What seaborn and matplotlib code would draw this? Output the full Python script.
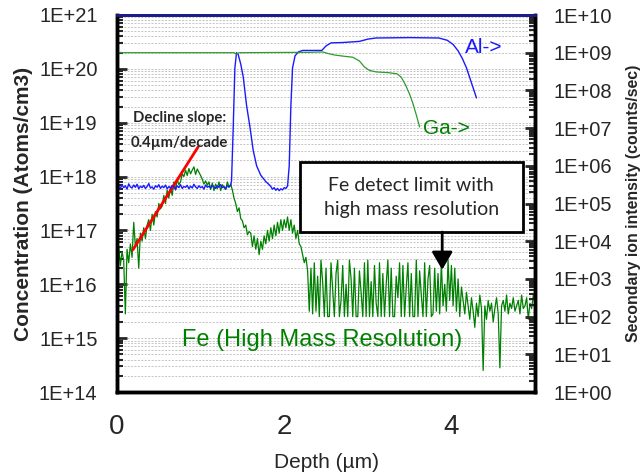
import numpy as np
import matplotlib
matplotlib.use("Agg")
import matplotlib.pyplot as plt
from matplotlib.patches import Rectangle
from matplotlib.ticker import FixedLocator, FuncFormatter, NullLocator, NullFormatter
import seaborn as sns

# Fe profile (high mass resolution), log10(atoms/cm3), read every 0.02 um from 0 to 5 um
fe_log = [
    16.55, 16.70, 16.35, 16.60, 16.45, 15.45, 16.65, 16.40, 16.75, 16.50,
    17.15, 16.70, 16.85, 16.30, 16.95, 16.80, 17.05, 16.85, 17.10, 17.20,
    17.00, 17.30, 17.10, 17.35, 17.25, 17.50, 17.40, 17.45, 17.65, 17.50,
    17.75, 17.60, 17.80, 17.65, 17.90, 17.75, 17.95, 17.85, 17.90, 18.05,
    18.00, 18.12, 18.02, 18.15, 18.05, 18.12, 18.18, 18.04, 18.14, 18.08,
    18.02, 17.95, 17.86, 17.92, 17.84, 17.90, 17.76, 17.88, 17.74, 17.86,
    17.78, 17.90, 17.74, 17.85, 17.80, 17.76, 17.90, 17.80, 17.86, 17.75,
    17.60, 17.50, 17.35, 17.42, 17.22, 17.18, 17.05, 17.10, 16.92, 16.98,
    16.95, 16.70, 16.90, 16.65, 16.85, 16.55, 16.80, 16.65, 16.90, 16.75,
    17.00, 16.80, 17.05, 16.85, 17.10, 16.90, 17.15, 16.95, 17.20, 17.00,
    17.20, 17.05, 17.25, 17.00, 17.20, 16.95, 17.10, 16.85, 17.00, 16.75,
    16.70, 16.55, 16.40, 16.50, 16.25, 15.50, 16.30, 15.45, 16.40, 15.50,
    16.15, 15.40, 16.45, 16.05, 15.40, 16.30, 15.40, 15.40, 16.40, 15.90,
    15.40, 16.20, 16.45, 15.40, 15.70, 16.35, 15.40, 16.00, 15.40, 16.45,
    16.10, 15.40, 16.30, 15.40, 15.40, 16.25, 15.85, 15.40, 16.40, 15.40,
    16.45, 15.40, 16.05, 15.40, 16.35, 15.65, 15.40, 16.40, 15.40, 16.20,
    15.40, 16.00, 16.45, 15.40, 16.30, 15.40, 15.40, 16.15, 15.75, 16.40,
    15.40, 16.35, 15.40, 15.95, 16.40, 15.40, 16.20, 15.40, 15.40, 16.45,
    15.40, 16.25, 15.80, 15.40, 16.40, 15.40, 16.10, 16.35, 15.40, 15.45,
    16.30, 15.50, 16.20, 15.45, 16.40, 15.60, 16.00, 15.50, 16.45, 15.70,
    16.35, 15.60, 16.30, 15.50, 16.10, 15.40, 15.95, 15.70, 15.45, 15.85,
    15.60, 15.35, 15.75, 15.50, 15.20, 15.65, 15.40, 15.80, 15.55, 14.40,
    15.60, 15.35, 15.70, 15.50, 15.65, 15.30, 15.55, 15.75, 15.45, 14.45,
    15.60, 15.70, 15.50, 15.80, 15.45, 15.65, 15.55, 15.75, 15.50, 15.60,
    15.70, 15.45, 15.80, 15.55, 15.60, 15.75, 15.35, 15.65, 15.55, 15.80,
    15.65,
]
fe_start, fe_end = 0.0, 5.0

# Al signal, log10(counts/sec)
al_head_depth = [0.0, 0.01]
al_head_log = [9.9, 5.5]
al_base_start, al_base_end = 0.02, 1.36
al_base_log = [
    5.46, 5.40, 5.50, 5.42, 5.47, 5.38, 5.52, 5.44, 5.41, 5.49,
    5.43, 5.51, 5.39, 5.46, 5.42, 5.48, 5.40, 5.45, 5.53, 5.41,
    5.44, 5.38, 5.47, 5.43, 5.50, 5.40, 5.46, 5.42, 5.49, 5.39,
    5.45, 5.41, 5.48, 5.44, 5.37, 5.47, 5.42, 5.50, 5.40, 5.45,
    5.43, 5.48, 5.39, 5.46, 5.41, 5.51, 5.44, 5.40, 5.47, 5.42,
    5.45, 5.38, 5.49, 5.43, 5.46, 5.41, 5.48, 5.44, 5.40, 5.47,
    5.43, 5.50, 5.42, 5.45, 5.39, 5.47, 5.44, 5.48,
]
al_peak_depth = [1.37, 1.39, 1.41, 1.43, 1.45, 1.48, 1.51, 1.55, 1.59, 1.63, 1.67, 1.72, 1.78, 1.82]
al_peak_log = [5.6, 7.0, 8.6, 9.0, 8.95, 8.7, 8.36, 7.6, 7.03, 6.4, 6.0, 5.75, 5.58, 5.5]
al_valley_start, al_valley_end = 1.84, 2.04
al_valley_log = [5.45, 5.38, 5.42, 5.35, 5.40, 5.34, 5.39, 5.36, 5.42, 5.40, 5.46]
al_tail_depth = [2.06, 2.08, 2.10, 2.13, 2.17, 2.22, 2.30, 2.45, 2.50, 2.56, 2.70, 2.90,
                 3.00, 3.10, 3.50, 3.85, 3.95, 4.02, 4.08, 4.13, 4.18, 4.24, 4.30]
al_tail_log = [6.0, 7.6, 8.6, 8.92, 9.02, 9.06, 9.06, 9.06, 9.18, 9.26, 9.27, 9.30,
               9.36, 9.39, 9.40, 9.39, 9.33, 9.22, 9.05, 8.85, 8.60, 8.20, 7.80]

# Ga signal, log10(counts/sec)
ga_depth = [0.0, 0.01, 1.40, 1.43, 1.46, 2.30, 2.46, 2.52, 2.60, 2.70, 2.82, 2.90,
            2.96, 3.02, 3.10, 3.25, 3.35, 3.40, 3.45, 3.50, 3.54, 3.58, 3.62]
ga_log = [7.5, 9.0, 9.0, 8.96, 9.0, 9.01, 9.02, 8.98, 8.94, 8.91, 8.88, 8.78,
          8.62, 8.53, 8.49, 8.47, 8.44, 8.35, 8.15, 7.90, 7.65, 7.35, 7.03]

# decline slope fit line
slope_depth = [0.19, 0.97]
slope_log = [16.64, 18.55]

left_exp = list(range(14, 22))
right_exp = list(range(0, 11))
depth_ticks = [0, 2, 4]

fe_depth = np.linspace(fe_start, fe_end, len(fe_log))
al_depth = np.concatenate([al_head_depth,
                           np.linspace(al_base_start, al_base_end, len(al_base_log)),
                           al_peak_depth,
                           np.linspace(al_valley_start, al_valley_end, len(al_valley_log)),
                           al_tail_depth])
al_val = 10.0 ** np.concatenate([al_head_log, al_base_log, al_peak_log, al_valley_log, al_tail_log])

sns.set_style("white")
plt.rcParams['font.family'] = ['Liberation Sans', 'DejaVu Sans']

fig = plt.figure(figsize=(6.42, 4.76), dpi=100)
ax = fig.add_axes([117 / 642, 84 / 476, 418 / 642, 377 / 476])
ax2 = ax.twinx()

fe_green = '#008000'
sns.lineplot(x=fe_depth, y=10.0 ** np.array(fe_log), ax=ax, color=fe_green, linewidth=0.9,
             estimator=None, sort=False, legend=False, zorder=2)
sns.lineplot(x=slope_depth, y=10.0 ** np.array(slope_log), ax=ax, color='#ff0000', linewidth=2,
             estimator=None, sort=False, legend=False, zorder=3)
sns.lineplot(x=al_depth, y=al_val, ax=ax2, color='#1a1aff', linewidth=1.0,
             estimator=None, sort=False, legend=False)
sns.lineplot(x=ga_depth, y=10.0 ** np.array(ga_log), ax=ax2, color='#2e9a2e', linewidth=0.9,
             estimator=None, sort=False, legend=False)

fmt = FuncFormatter(lambda v, p: "1E+%02d" % round(np.log10(v)))

ax.set_xlim(0, 5)
ax.set_xticks(depth_ticks)
ax.xaxis.set_minor_locator(NullLocator())

ax.set_yscale('log')
ax.set_ylim(10.0 ** left_exp[0], 10.0 ** left_exp[-1])
ax.yaxis.set_major_locator(FixedLocator([10.0 ** e for e in left_exp]))
ax.yaxis.set_minor_locator(FixedLocator([m * 10.0 ** e for e in left_exp[:-1] for m in range(2, 10)]))
ax.yaxis.set_major_formatter(fmt)
ax.yaxis.set_minor_formatter(NullFormatter())

ax2.set_yscale('log')
ax2.set_ylim(10.0 ** right_exp[0], 10.0 ** right_exp[-1])
ax2.yaxis.set_major_locator(FixedLocator([10.0 ** e for e in right_exp]))
ax2.yaxis.set_minor_locator(FixedLocator([m * 10.0 ** e for e in right_exp[:-1] for m in range(2, 10)]))
ax2.yaxis.set_major_formatter(fmt)
ax2.yaxis.set_minor_formatter(NullFormatter())

ax.yaxis.grid(True, which='both', color='#c4c4c4', linestyle=(0, (2, 1.5)), linewidth=0.7)
ax.set_axisbelow(True)

ax.tick_params(axis='x', which='major', direction='in', length=7, width=1.5, labelsize=20, pad=16)
ax.tick_params(axis='y', which='major', direction='in', length=7, width=2, labelsize=14.5, pad=14)
ax.tick_params(axis='y', which='minor', direction='in', length=4, width=1.5)
ax2.tick_params(axis='y', which='major', direction='in', length=7, width=2, labelsize=14.5, pad=13)
ax2.tick_params(axis='y', which='minor', direction='in', length=4, width=1.5)

for a in (ax, ax2):
    for side in ('left', 'bottom', 'right'):
        a.spines[side].set_color('black')
        a.spines[side].set_linewidth(2.5)
    a.spines['top'].set_color('#1c1c8c')
    a.spines['top'].set_linewidth(2)

ax.set_xlabel("Depth (µm)", fontsize=15)
ax.xaxis.set_label_coords(0.5, (392 - 453) / 377)
ax.set_ylabel("Concentration (Atoms/cm3)", fontsize=15, fontweight='bold')
ax.yaxis.set_label_coords((33 - 117) / 418, 0.5)
ax2.set_ylabel("Secondary ion intensity (counts/sec)", fontsize=11.4, fontweight='bold')
ax2.yaxis.set_label_coords((626 - 117) / 418, 0.5)

# annotations
calibri_like = ['Lato', 'DejaVu Sans']
ax.text(0.75, 10 ** 19.09, "Decline slope:", family=calibri_like, fontweight='bold',
        fontsize=10.7, ha='center', va='center', zorder=4)
ax.text(0.75, 10 ** 18.62, "0.4µm/decade", family=calibri_like, fontweight='bold',
        fontsize=10.7, ha='center', va='center', zorder=4)

ax.add_patch(Rectangle((2.19, 10 ** 16.97), 2.67, 10 ** 18.27 - 10 ** 16.97,
                       facecolor='white', edgecolor='black', linewidth=2, zorder=4))
ax.text(3.52, 10 ** 17.84, "Fe detect limit with", family=calibri_like, fontsize=14,
        ha='center', va='center', zorder=5)
ax.text(3.52, 10 ** 17.38, "high mass resolution", family=calibri_like, fontsize=14,
        ha='center', va='center', zorder=5)
ax.annotate('', xy=(3.89, 10 ** 16.27), xytext=(3.89, 10 ** 16.97),
            arrowprops=dict(arrowstyle='-|>,head_length=0.6,head_width=0.35', color='black',
                            lw=2, mutation_scale=18, shrinkA=0, shrinkB=0), zorder=5)

ax.text(4.16, 10 ** 20.39, "Al->", color='#1a1aff', fontsize=15, ha='left', va='center')
ax.text(3.66, 10 ** 18.90, "Ga->", color=fe_green, fontsize=15, ha='left', va='center')
ax.text(0.78, 10 ** 14.97, "Fe (High Mass Resolution)", color=fe_green, fontsize=17,
        ha='left', va='center')

fig.savefig('out.png', dpi=100)
